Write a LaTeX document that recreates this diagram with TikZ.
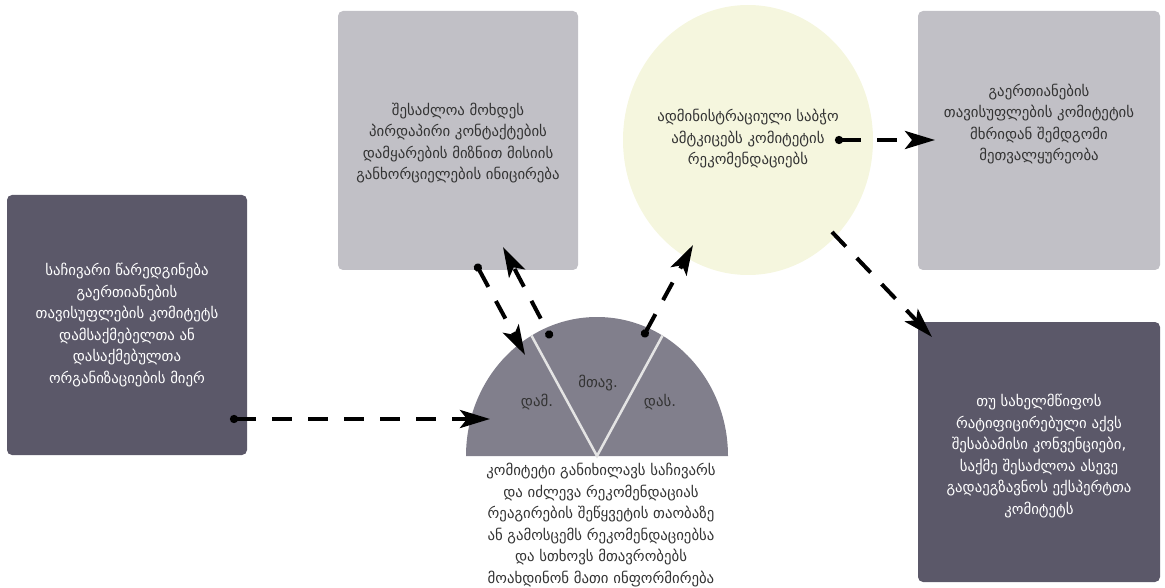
\documentclass[tikz,border=0pt]{standalone}
\usepackage{fontspec}
\setmainfont{DejaVu Sans}
\usetikzlibrary{arrows.meta}
\definecolor{darkbox}{RGB}{91,88,105}
\definecolor{lightbox}{RGB}{193,192,198}
\definecolor{councilbg}{RGB}{245,246,222}
\definecolor{committeebg}{RGB}{129,127,140}
\definecolor{inktext}{RGB}{51,51,51}
\definecolor{splitline}{RGB}{228,228,228}

\begin{document}
\begin{tikzpicture}[x=1pt,y=-1pt,
    lbl/.style={align=center,text=inktext,font=\fontsize{14.8}{21.5}\selectfont},
    lblw/.style={lbl,text=white},
    flow/.style={line width=4pt,dash pattern=on 20pt off 16pt,
        -{Stealth[length=30pt,width=18pt,inset=7pt]}},
    dotflow/.style={flow,{Circle[length=8pt,width=8pt]}-{Stealth[length=30pt,width=18pt,inset=7pt]}}]

    \useasboundingbox (0,0) rectangle (1165,588);

    % Boxes
    \fill[darkbox,rounded corners=5pt] (7,195) rectangle (247,455);
    \fill[lightbox,rounded corners=5pt] (338,11) rectangle (578,270);
    \fill[lightbox,rounded corners=5pt] (918,11) rectangle (1160,270);
    \fill[darkbox,rounded corners=5pt] (918,322) rectangle (1160,582);

    % Administrative council
    \fill[councilbg] (748,140) ellipse[x radius=125pt,y radius=135pt];

    % Committee: half disc split in three
    \coordinate (S) at (597,456);
    \fill[committeebg] (S) ++(-131pt,0) arc[start angle=180,end angle=0,x radius=131pt,y radius=139pt] -- cycle;
    \draw[splitline,line width=2.5pt] (S) ++(120:131pt and 139pt) -- (S) -- ++(60:131pt and 139pt);

    \node[lbl] (dam) at (537,402) {დამ.};
    \node[lbl] (mtav) at (598,383) {მთავ.};
    \node[lbl] (das) at (660,402) {დას.};

    % Texts
    \node[lblw] (complaint) at (127,325) {საჩივარი წარედგინება\\გაერთიანების\\თავისუფლების კომიტეტს\\დამსაქმებელთა ან\\დასაქმებულთა\\ორგანიზაციების მიერ};
    \node[lbl] (mission) at (458,143) {შესაძლოა მოხდეს\\პირდაპირი კონტაქტების\\დამყარების მიზნით მისიის\\განხორციელების ინიცირება};
    \node[lbl] (council) at (748,139) {ადმინისტრაციული საბჭო\\ამტკიცებს კომიტეტის\\რეკომენდაციებს};
    \node[lbl] (followup) at (1039,124) {გაერთიანების\\თავისუფლების კომიტეტის\\მხრიდან შემდგომი\\მეთვალყურეობა};
    \node[lblw] (experts) at (1039,456) {თუ სახელმწიფოს\\რატიფიცირებული აქვს\\შესაბამისი კონვენციები,\\საქმე შესაძლოა ასევე\\გადაეგზავნოს ექსპერტთა\\კომიტეტს};
    \node[lbl] (review) at (601,525) {კომიტეტი განიხილავს საჩივარს\\და იძლევა რეკომენდაციას\\რეაგირების შეწყვეტის თაობაზე\\ან გამოსცემს რეკომენდაციებსა\\და სთხოვს მთავრობებს\\მოახდინონ მათი ინფორმირება};

    % Arrow ends
    \coordinate (a1) at (230,419);  \coordinate (b1) at (490,419);
    \coordinate (a2) at (476,264);  \coordinate (b2) at (525,355);
    \coordinate (a3) at (551,338);  \coordinate (b3) at (503,247);
    \coordinate (a4) at (643,337);  \coordinate (b4) at (693,245);
    \coordinate (a5) at (835,140);  \coordinate (b5) at (935,140);
    \coordinate (a6) at (832,232);  \coordinate (b6) at (932,337);

    \draw[dotflow] (a1) -- (b1);
    \draw[dotflow] (a2) -- (b2);
    \draw[dotflow,dash phase=20pt] (a3) -- (b3);
    \draw[dotflow] (a4) -- (b4);
    \draw[dotflow] (a5) -- (b5);
    \draw[flow] (a6) -- (b6);
\end{tikzpicture}
\end{document}
